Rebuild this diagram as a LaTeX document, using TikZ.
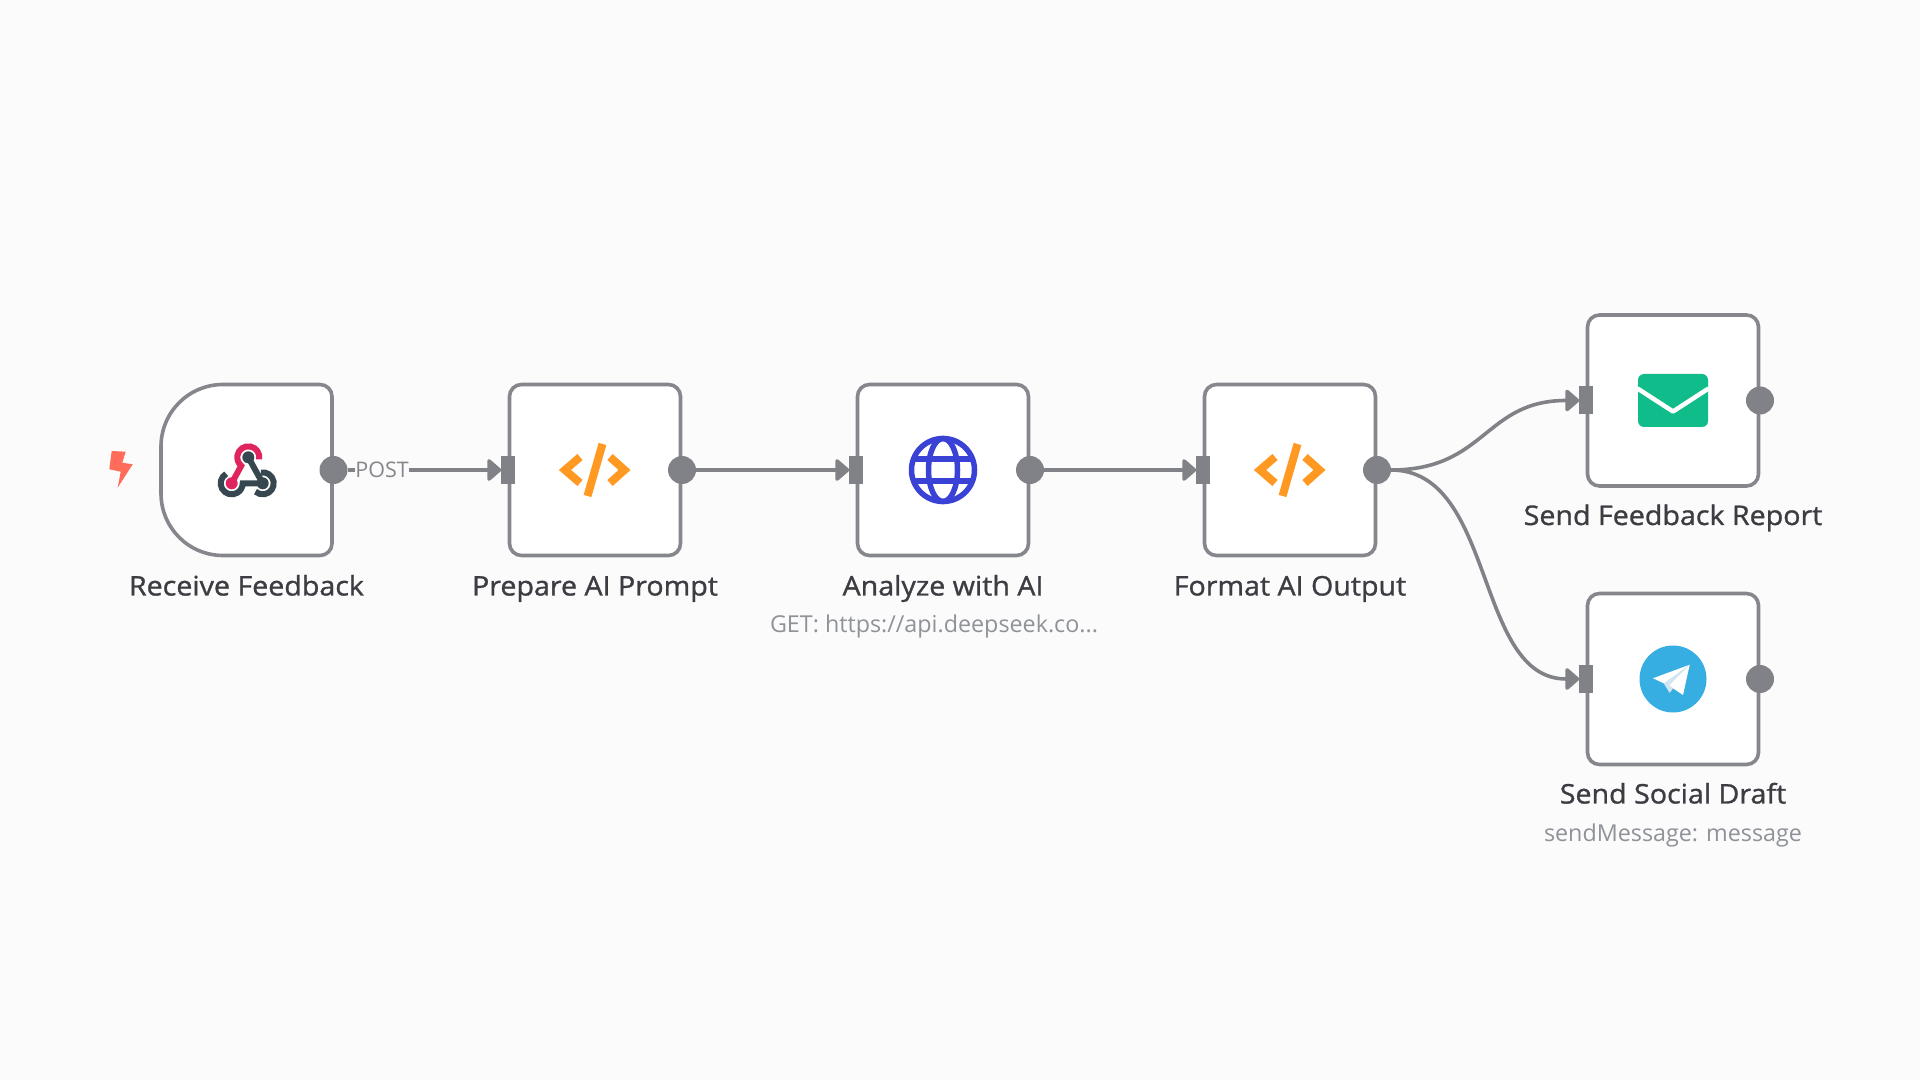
\documentclass[tikz,border=0pt]{standalone}
\usepackage{fontspec}
\setmainfont{Open Sans}
\newfontfamily\stepfont[FakeBold=1.1,FakeStretch=1.06]{Open Sans}
\usetikzlibrary{calc,arrows.meta,positioning}

\definecolor{pagebg}{HTML}{FBFBFB}
\definecolor{portgrey}{HTML}{808287}
\definecolor{stepgrey}{HTML}{85878C}
\definecolor{titlegrey}{HTML}{3C3C42}
\definecolor{subgrey}{HTML}{8F9298}
\definecolor{boltred}{HTML}{FF6D5A}
\definecolor{hookred}{HTML}{E0245E}
\definecolor{hookdark}{HTML}{37474F}
\definecolor{codeorange}{HTML}{FF9922}
\definecolor{globeblue}{HTML}{3A42D6}
\definecolor{mailgreen}{HTML}{10BC8A}
\definecolor{teleblue}{HTML}{37AEE2}
\definecolor{planefold}{HTML}{D3E5F2}

\tikzset{
  stepbox/.style={rectangle,draw=stepgrey,fill=white,line width=3.6pt,rounded corners=12pt,
    minimum size=171pt,inner sep=0pt,outer sep=0pt},
  hookbox/.style={rectangle,minimum size=171pt,inner sep=0pt,outer sep=0pt},
  outdot/.style={circle,fill=portgrey,minimum size=28pt,inner sep=0pt,outer sep=0pt,xshift=1.5pt},
  indot/.style={rectangle,fill=portgrey,minimum width=13.5pt,minimum height=28pt,inner sep=0pt,outer sep=0pt,xshift=-1.5pt},
  steplabel/.style={font=\stepfont\fontsize{27}{31}\selectfont,text=titlegrey,text height=19pt,text depth=6pt,inner sep=0pt},
  sublabel/.style={font=\fontsize{23.3}{27}\selectfont,text=subgrey,text height=17pt,text depth=5pt,inner sep=0pt},
  methodlabel/.style={font=\fontsize{21.5}{25}\selectfont,text=stepgrey,fill=pagebg,inner sep=0pt,outer sep=1pt},
  link/.style={draw=portgrey,line width=3.6pt,-{Triangle[round,length=15pt,width=25pt,fill=portgrey]}}
}

\newcommand{\codeicon}[1]{
  \begin{scope}[shift={(#1.center)},draw=codeorange,line width=8pt,miter limit=10]
    \draw (-15,13) -- (-30,0) -- (-15,-13);
    \draw (15,13) -- (29.5,0) -- (15,-13);
    \draw (7.5,26) -- (-7.5,-26);
  \end{scope}
}

\begin{document}
\begin{tikzpicture}[x=1pt,y=1pt,on grid]
  \fill[pagebg] (0,0) rectangle (1920,1080);
  \useasboundingbox (0,0) rectangle (1920,1080);

  % steps
  \node[hookbox] (receive) at (246.5,610) {};
  \draw[draw=stepgrey,fill=white,line width=3.6pt]
    (receive.east) -- ($(receive.south east)+(0,12)$) arc[start angle=0,end angle=-90,radius=12pt]
    -- ($(receive.south west)+(62,0)$) arc[start angle=270,end angle=180,radius=62pt]
    -- ($(receive.north west)+(0,-62)$) arc[start angle=180,end angle=90,radius=62pt]
    -- ($(receive.north east)+(-12,0)$) arc[start angle=90,end angle=0,radius=12pt] -- cycle;
  \node[stepbox] (prepare) at (595,610) {};
  \node[stepbox] (analyze) at (943,610) {};
  \node[stepbox] (format) at (1290,610) {};
  \node[stepbox] (report) at (1673,679.5) {};
  \node[stepbox] (social) at (1673,401) {};

  % ports
  \node[outdot] (receiveout) at (receive.east) {};
  \node[indot] (preparein) at (prepare.west) {};
  \node[outdot] (prepareout) at (prepare.east) {};
  \node[indot] (analyzein) at (analyze.west) {};
  \node[outdot] (analyzeout) at (analyze.east) {};
  \node[indot] (formatin) at (format.west) {};
  \node[outdot] (formatout) at (format.east) {};
  \node[indot] (reportin) at (report.west) {};
  \node[outdot] (reportout) at (report.east) {};
  \node[indot] (socialin) at (social.west) {};
  \node[outdot] (socialout) at (social.east) {};

  % connections
  \path[link]
    (receiveout) edge node[methodlabel,pos=0.225] {POST} (preparein)
    (prepareout) edge (analyzein)
    (analyzeout) edge (formatin);
  \draw[link] (formatout.east) .. controls +(95,0) and +(-95,0) .. (reportin.west);
  \draw[link] (formatout.east) .. controls +(105,0) and +(-105,0) .. (socialin.west);

  % labels
  \node[steplabel,below=119pt of receive] (receivelabel) {Receive Feedback};
  \node[steplabel,below=119pt of prepare] (preparelabel) {Prepare AI Prompt};
  \node[steplabel,below=119pt of analyze] (analyzelabel) {Analyze with AI};
  \node[steplabel,below=119pt of format] (formatlabel) {Format AI Output};
  \node[steplabel,below=118pt of report] (reportlabel) {Send Feedback Report};
  \node[steplabel,below=118pt of social] (sociallabel) {Send Social Draft};
  \node[sublabel,below=37.5pt of analyzelabel,xshift=-9pt] (analyzesub) {GET: https://api.deepseek.co...};
  \node[sublabel,below=38.5pt of sociallabel] (socialsub) {sendMessage: message};

  % trigger bolt
  \fill[boltred] (111.7,629) -- (125.7,628.3) -- (122.3,617.3) -- (132.7,615.7) -- (117.7,592.3)
    -- (120.7,608.3) -- (109.3,610.7) -- cycle;

  % webhook icon
  \begin{scope}[shift={(receive.center)},line width=6pt]
    \draw[hookred] (12.6,10.6) arc[start angle=-11,end angle=230,radius=11pt] -- (-14.8,-13.3);
    \fill[hookred] (-14.8,-13.3) circle (6pt);
    \draw[hookdark] (-20.3,-3.8) arc[start angle=120,end angle=360,radius=11pt] -- (16.2,-13.3);
    \draw[hookdark] (1.8,12.7) -- (16.2,-13.3);
    \draw[hookdark] (14.3,-2.5) arc[start angle=100,end angle=-131,radius=11pt];
    \fill[hookdark] (1.8,12.7) circle (6pt);
    \fill[hookdark] (16.2,-13.3) circle (6pt);
  \end{scope}

  % code icons
  \codeicon{prepare}
  \codeicon{format}

  % globe icon
  \begin{scope}[shift={(analyze.center)},draw=globeblue,line width=5.5pt]
    \draw (0,0) circle (31.5pt);
    \draw (0,0) ellipse (14.5pt and 31.5pt);
    \draw (-28,11) -- (28,11);
    \draw (-28,-11) -- (28,-11);
  \end{scope}

  % mail icon
  \begin{scope}[shift={(report.center)}]
    \fill[mailgreen,rounded corners=6pt] (-35,-26.5) rectangle (35,26.5);
    \draw[white,line width=4.5pt,line join=round] (-35.5,12) -- (0,-11) -- (35.5,12);
  \end{scope}

  % telegram icon
  \begin{scope}[shift={(social.center)}]
    \fill[teleblue] (0,0) circle (33.5pt);
    \fill[white] (16.7,14.3) -- (-20,0.7) -- (-9.3,-4.3) -- (0,-9.3) -- (10,-16) -- cycle;
    \fill[planefold] (-9.3,-4.3) -- (-3.3,-14) -- (0,-9.3) -- (-3.5,-6) -- (16.7,14.3) -- cycle;
  \end{scope}
\end{tikzpicture}
\end{document}
